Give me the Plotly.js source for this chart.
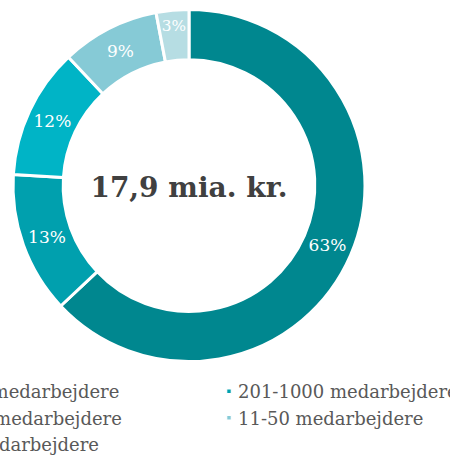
<!DOCTYPE html>
<html>
<head>
<meta charset="utf-8">
<script src="https://cdn.plot.ly/plotly-3.0.1.min.js"></script>
<style>
html,body{margin:0;padding:0;background:#fff;overflow:hidden;width:450px;height:455px;}
#wrap{position:relative;width:450px;height:455px;overflow:hidden;}
#chart{position:absolute;left:-120px;top:0;width:800px;height:455px;}
#chart .legendpoints path{transform:translate(31px,0) scale(0.38);}
</style>
</head>
<body>
<div id="wrap"><div id="chart"></div></div>
<script>
const categories = ["1000+ medarbejdere", "201-1000 medarbejdere", "51-200 medarbejdere", "11-50 medarbejdere", "1-10 medarbejdere"];
const shares = [63, 13, 12, 9, 3];
const colors = ["#00878f", "#00a0ae", "#00b4c6", "#86cad6", "#b6dde3"];
const centerLabel = "17,9 mia. kr.";

const W = 800, H = 455;
const cx = 309, cy = 185.5, R = 176;

const trace = {
  type: "pie",
  labels: categories,
  values: shares,
  sort: false,
  direction: "clockwise",
  rotation: 0,
  hole: 0.715,
  marker: {colors: colors, line: {color: "#ffffff", width: 3}},
  texttemplate: "%{value}%",
  textposition: "inside",
  insidetextorientation: "horizontal",
  textfont: {family: "DejaVu Serif", size: 17, color: "#ffffff"},
  title: {text: "<b>" + centerLabel + "</b>", position: "middle center",
          font: {family: "DejaVu Serif", size: 28, color: "#404040"}},
  domain: {x: [(cx - R) / W, (cx + R) / W], y: [(H - cy - R) / H, (H - cy + R) / H]},
  hoverinfo: "label+percent"
};

const layout = {
  width: W, height: H,
  margin: {l: 0, r: 0, t: 0, b: 0, autoexpand: false},
  paper_bgcolor: "#ffffff",
  showlegend: true,
  legend: {
    orientation: "h",
    x: 5 / W, xanchor: "left",
    y: 0.18, yanchor: "top",
    entrywidth: 268,
    entrywidthmode: "pixels",
    traceorder: "normal",
    font: {family: "DejaVu Serif", size: 18, color: "#595959"},
    itemwidth: 30,
    tracegroupgap: 0
  }
};

Plotly.newPlot("chart", [trace], layout, {displayModeBar: false, staticPlot: true});
</script>
</body>
</html>
